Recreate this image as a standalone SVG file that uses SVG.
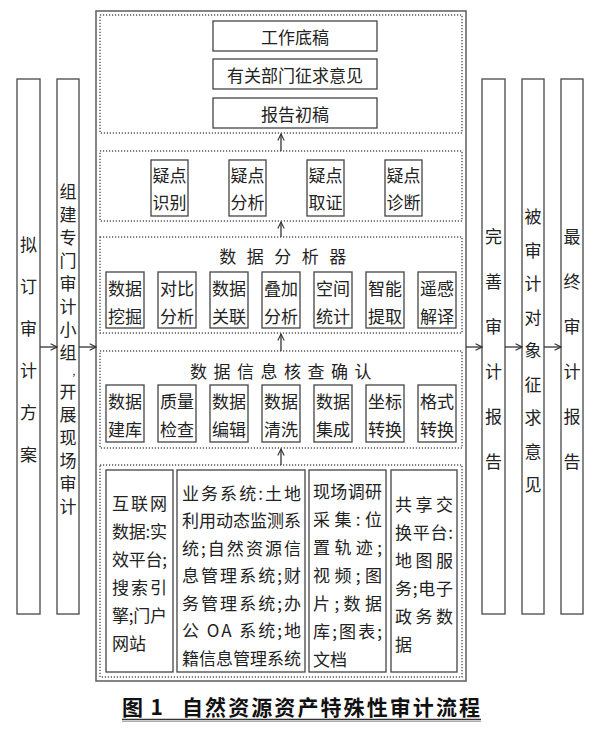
<svg xmlns="http://www.w3.org/2000/svg" width="600" height="737" viewBox="0 0 600 737">
<defs>
<style>
text{font-family:"Noto Sans CJK SC","Noto Sans",sans-serif;font-size:17px;fill:#222;dominant-baseline:central}
.c{text-anchor:middle}
.box{fill:#fff;stroke:#444;stroke-width:1.3}
.col{fill:#fff;stroke:#555;stroke-width:1.4}
.dot{fill:none;stroke:#555;stroke-width:1.4;stroke-dasharray:1.2 1.8}
.outer{fill:none;stroke:#666;stroke-width:1.6}
.arr{fill:none;stroke:#333;stroke-width:1.3;marker-end:url(#ah)}
.cap{font-size:21px;font-weight:bold;fill:#111}
</style>
<marker id="ah" viewBox="0 0 10 10" refX="9" refY="5" markerWidth="8" markerHeight="8" markerUnits="userSpaceOnUse" orient="auto">
<path d="M1,1 L9,5 L1,9" fill="none" stroke="#333" stroke-width="1.4"/>
</marker>
</defs>
<rect width="600" height="737" fill="#fff"/>

<g id="plan">
<rect class="col" x="17" y="79" width="23" height="535"/>
<text class="c"><tspan x="28.5" y="243">拟</tspan><tspan x="28.5" y="285">订</tspan><tspan x="28.5" y="327">审</tspan><tspan x="28.5" y="369">计</tspan><tspan x="28.5" y="411">方</tspan><tspan x="28.5" y="453">案</tspan></text>
</g>
<g id="team">
<rect class="col" x="57" y="79" width="22" height="535"/>
<text class="c"><tspan x="68" y="190">组</tspan><tspan x="68" y="213">建</tspan><tspan x="68" y="236">专</tspan><tspan x="68" y="259">门</tspan><tspan x="68" y="282">审</tspan><tspan x="68" y="305">计</tspan><tspan x="68" y="328">小</tspan><tspan x="68" y="351">组</tspan><tspan x="74" y="370" font-size="10">,</tspan><tspan x="68" y="390">开</tspan><tspan x="68" y="413">展</tspan><tspan x="68" y="436">现</tspan><tspan x="68" y="459">场</tspan><tspan x="68" y="482">审</tspan><tspan x="68" y="505">计</tspan></text>
</g>
<g id="improve">
<rect class="col" x="482" y="79" width="23" height="535"/>
<text class="c"><tspan x="493.5" y="235">完</tspan><tspan x="493.5" y="280">善</tspan><tspan x="493.5" y="325">审</tspan><tspan x="493.5" y="370">计</tspan><tspan x="493.5" y="415">报</tspan><tspan x="493.5" y="460">告</tspan></text>
</g>
<g id="opinion">
<rect class="col" x="522" y="79" width="22" height="535"/>
<text class="c"><tspan x="533" y="215">被</tspan><tspan x="533" y="248.5">审</tspan><tspan x="533" y="282">计</tspan><tspan x="533" y="315.5">对</tspan><tspan x="533" y="349">象</tspan><tspan x="533" y="382.5">征</tspan><tspan x="533" y="416">求</tspan><tspan x="533" y="449.5">意</tspan><tspan x="533" y="483">见</tspan></text>
</g>
<g id="final">
<rect class="col" x="561" y="79" width="22" height="535"/>
<text class="c"><tspan x="572" y="235">最</tspan><tspan x="572" y="280">终</tspan><tspan x="572" y="325">审</tspan><tspan x="572" y="370">计</tspan><tspan x="572" y="415">报</tspan><tspan x="572" y="460">告</tspan></text>
</g>

<g id="process">
<rect class="outer" x="96" y="11" width="370" height="670"/>
<rect class="dot" x="100" y="15" width="362" height="118"/>
<rect class="dot" x="100" y="151" width="362" height="70"/>
<rect class="dot" x="100" y="237" width="362" height="96"/>
<rect class="dot" x="100" y="351" width="362" height="97"/>
<rect class="dot" x="100" y="465" width="362" height="212"/>
</g>

<g id="reports">
<rect class="box" x="213" y="21" width="164" height="30"/>
<text class="c" x="295" y="36">工作底稿</text>
<rect class="box" x="213" y="59" width="164" height="30"/>
<text class="c" x="295" y="74">有关部门征求意见</text>
<rect class="box" x="213" y="98" width="164" height="30"/>
<text class="c" x="295" y="113">报告初稿</text>
</g>

<g id="doubts">
<rect class="box" x="151" y="160" width="37" height="56"/>
<text class="c"><tspan x="169.5" y="174">疑点</tspan><tspan x="169.5" y="201">识别</tspan></text>
<rect class="box" x="229" y="160" width="37" height="56"/>
<text class="c"><tspan x="247.5" y="174">疑点</tspan><tspan x="247.5" y="201">分析</tspan></text>
<rect class="box" x="307" y="160" width="37" height="56"/>
<text class="c"><tspan x="325.5" y="174">疑点</tspan><tspan x="325.5" y="201">取证</tspan></text>
<rect class="box" x="385" y="160" width="37" height="56"/>
<text class="c"><tspan x="403.5" y="174">疑点</tspan><tspan x="403.5" y="201">诊断</tspan></text>
</g>

<g id="analyzer">
<text class="c" x="288" y="255" letter-spacing="10.5">数据分析器</text>
<rect class="box" x="106" y="272" width="38" height="56"/>
<text class="c"><tspan x="125" y="287">数据</tspan><tspan x="125" y="315">挖掘</tspan></text>
<rect class="box" x="158" y="272" width="38" height="56"/>
<text class="c"><tspan x="177" y="287">对比</tspan><tspan x="177" y="315">分析</tspan></text>
<rect class="box" x="210" y="272" width="38" height="56"/>
<text class="c"><tspan x="229" y="287">数据</tspan><tspan x="229" y="315">关联</tspan></text>
<rect class="box" x="262" y="272" width="38" height="56"/>
<text class="c"><tspan x="281" y="287">叠加</tspan><tspan x="281" y="315">分析</tspan></text>
<rect class="box" x="314" y="272" width="38" height="56"/>
<text class="c"><tspan x="333" y="287">空间</tspan><tspan x="333" y="315">统计</tspan></text>
<rect class="box" x="366" y="272" width="38" height="56"/>
<text class="c"><tspan x="385" y="287">智能</tspan><tspan x="385" y="315">提取</tspan></text>
<rect class="box" x="418" y="272" width="38" height="56"/>
<text class="c"><tspan x="437" y="287">遥感</tspan><tspan x="437" y="315">解译</tspan></text>
</g>

<g id="verify">
<text class="c" x="284" y="370" letter-spacing="6.5">数据信息核查确认</text>
<rect class="box" x="106" y="385" width="38" height="57"/>
<text class="c"><tspan x="125" y="400">数据</tspan><tspan x="125" y="428">建库</tspan></text>
<rect class="box" x="158" y="385" width="38" height="57"/>
<text class="c"><tspan x="177" y="400">质量</tspan><tspan x="177" y="428">检查</tspan></text>
<rect class="box" x="210" y="385" width="38" height="57"/>
<text class="c"><tspan x="229" y="400">数据</tspan><tspan x="229" y="428">编辑</tspan></text>
<rect class="box" x="262" y="385" width="38" height="57"/>
<text class="c"><tspan x="281" y="400">数据</tspan><tspan x="281" y="428">清洗</tspan></text>
<rect class="box" x="314" y="385" width="38" height="57"/>
<text class="c"><tspan x="333" y="400">数据</tspan><tspan x="333" y="428">集成</tspan></text>
<rect class="box" x="366" y="385" width="38" height="57"/>
<text class="c"><tspan x="385" y="400">坐标</tspan><tspan x="385" y="428">转换</tspan></text>
<rect class="box" x="418" y="385" width="38" height="57"/>
<text class="c"><tspan x="437" y="400">格式</tspan><tspan x="437" y="428">转换</tspan></text>
</g>

<g id="src-internet">
<rect class="box" x="106" y="470" width="67" height="202"/>
<text x="112" y="502" textLength="55" lengthAdjust="spacing">互联网</text>
<text x="112" y="530" textLength="55" lengthAdjust="spacing">数据:实</text>
<text x="112" y="558" textLength="55" lengthAdjust="spacing">效平台;</text>
<text x="112" y="586" textLength="55" lengthAdjust="spacing">搜索引</text>
<text x="112" y="614" textLength="55" lengthAdjust="spacing">擎;门户</text>
<text x="112" y="642">网站</text>
</g>
<g id="src-business">
<rect class="box" x="177" y="470" width="128" height="202"/>
<text x="182" y="492" textLength="119" lengthAdjust="spacing">业务系统:土地</text>
<text x="182" y="519.5" textLength="119" lengthAdjust="spacing">利用动态监测系</text>
<text x="182" y="547" textLength="119" lengthAdjust="spacing">统;自然资源信</text>
<text x="182" y="574.5" textLength="119" lengthAdjust="spacing">息管理系统;财</text>
<text x="182" y="602" textLength="119" lengthAdjust="spacing">务管理系统;办</text>
<text x="182" y="629.5" textLength="119" lengthAdjust="spacing">公 OA 系统;地</text>
<text x="182" y="657" textLength="119" lengthAdjust="spacing">籍信息管理系统</text>
</g>
<g id="src-field">
<rect class="box" x="309" y="470" width="77" height="202"/>
<text x="313" y="490" textLength="69" lengthAdjust="spacing">现场调研</text>
<text x="313" y="518" textLength="69" lengthAdjust="spacing">采集:位</text>
<text x="313" y="546" textLength="69" lengthAdjust="spacing">置轨迹;</text>
<text x="313" y="574" textLength="69" lengthAdjust="spacing">视频;图</text>
<text x="313" y="602" textLength="69" lengthAdjust="spacing">片;数据</text>
<text x="313" y="630" textLength="69" lengthAdjust="spacing">库;图表;</text>
<text x="313" y="658">文档</text>
</g>
<g id="src-share">
<rect class="box" x="391" y="470" width="66" height="202"/>
<text x="395" y="503" textLength="58" lengthAdjust="spacing">共享交</text>
<text x="395" y="531" textLength="58" lengthAdjust="spacing">换平台:</text>
<text x="395" y="559" textLength="58" lengthAdjust="spacing">地图服</text>
<text x="395" y="587" textLength="58" lengthAdjust="spacing">务;电子</text>
<text x="395" y="615" textLength="58" lengthAdjust="spacing">政务数</text>
<text x="395" y="643">据</text>
</g>

<g id="connectors">
<line class="arr" x1="281" y1="465" x2="281" y2="449"/>
<line class="arr" x1="281" y1="351" x2="281" y2="334"/>
<line class="arr" x1="281" y1="237" x2="281" y2="222"/>
<line class="arr" x1="281" y1="151" x2="281" y2="134"/>
<line class="arr" x1="40" y1="347" x2="57" y2="347"/>
<line class="arr" x1="79" y1="347" x2="96" y2="347"/>
<line class="arr" x1="466" y1="347" x2="482" y2="347"/>
<line class="arr" x1="505" y1="347" x2="522" y2="347"/>
<line class="arr" x1="544" y1="347" x2="561" y2="347"/>
</g>

<g id="caption">
<text class="cap" x="122" y="706" textLength="41" lengthAdjust="spacing">图 1</text>
<text class="cap" x="182" y="706" textLength="298" lengthAdjust="spacing">自然资源资产特殊性审计流程</text>
<line x1="122" y1="719.5" x2="481" y2="719.5" stroke="#333" stroke-width="1.3"/>
<line x1="122" y1="721.5" x2="481" y2="721.5" stroke="#999" stroke-width="0.8"/>
</g>
</svg>
